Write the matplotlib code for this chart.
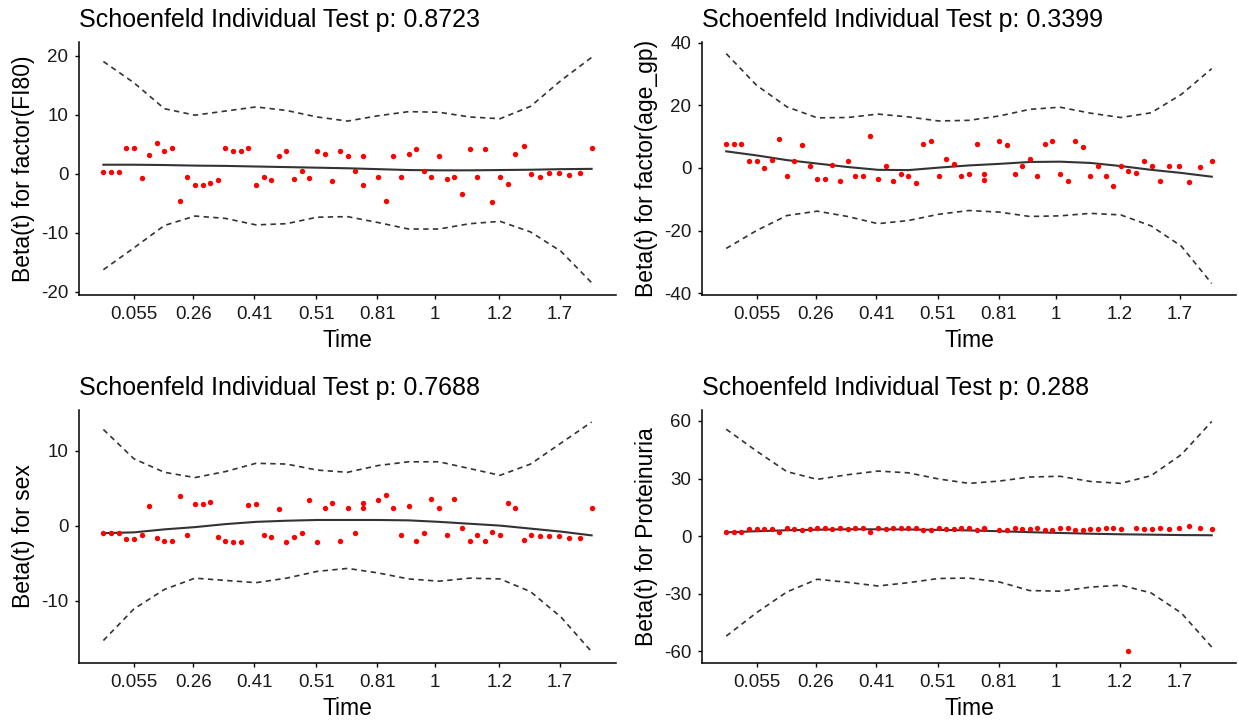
import matplotlib
matplotlib.use("Agg")
import matplotlib.pyplot as plt

plt.rcParams['font.family'] = ['Liberation Sans', 'DejaVu Sans']
plt.rcParams['axes.unicode_minus'] = False

# x positions (transformed time, rank scale) of the residual points
time_pos = list(range(0, 34)) + [34, 34] + list(range(36, 54)) + \
    [54.0, 55.1, 56.1, 57.2, 58.4, 59.7, 61.0, 62.5, 64.0]

tick_pos = [4.0, 11.8, 19.8, 27.9, 35.9, 43.5, 51.9, 59.8]
tick_labels = ["0.055", "0.26", "0.41", "0.51", "0.81", "1", "1.2", "1.7"]

# residuals
fi80_resid = [0.2, 0.2, 0.2, 4.3, 4.3, -0.7, 3.2, 5.2, 3.9, 4.3, -4.6, -0.5, -2.0, -2.0, -1.6, -1.1,
              4.3, 3.9, 3.9, 4.3, -2.0, -0.5, -1.1, 3.0, 3.9, -0.9, 0.4, -0.7, 3.9, 3.4, -1.3, 3.9,
              3.0, 0.4, 3.0, -2.0,
              -0.5, -4.6, 3.0, -0.5, 3.4, 4.1, 0.4, -0.5, 3.0, -0.9, -0.5, -3.5, 4.1, -0.5, 4.1,
              -4.8, -0.5, -1.7,
              3.3, 4.7, -0.1, -0.6, 0.1, 0.1, -0.3, 0.1, 4.3]
age_resid = [7.7, 7.7, 7.7, 2.2, 2.2, 0.1, 2.6, 9.3, -2.6, 2.2, 7.4, 0.5, -3.4, -3.4, 1.0, -4.2,
             2.2, -2.6, -2.6, 10.2, -3.4, 0.5, -4.2, -1.8, -2.6, -4.7, 7.7, 8.5, -2.6, 3.0, 1.4,
             -2.6, -1.8, 7.7, -1.8, -3.8,
             8.5, 7.4, -1.8, 0.5, 3.0, -2.6, 7.7, 8.5, -1.8, -4.2, 8.5, 6.6, -2.6, 0.5, -2.6,
             -5.8, 0.5, -1.1,
             -1.7, 2.3, 0.7, -4.1, 0.7, 0.7, -4.6, 0.3, 2.3]
sex_resid = [-1.0, -1.0, -1.0, -1.8, -1.8, -1.3, 2.6, -1.7, -2.0, -2.0, 3.9, -1.3, 2.9, 2.9, 3.2,
             -1.5, -2.0, -2.2, -2.2, 2.7, 2.9, -1.3, -1.5, 2.2, -2.2, -1.5, -1.0, 3.4, -2.2, 2.4,
             3.0, -2.0, 2.4, -1.0, 3.0, 2.4,
             3.4, 4.1, 2.4, -1.2, 2.6, -2.0, -1.0, 3.6, 2.4, -1.3, 3.6, -0.3, -2.0, -1.2, -2.0,
             -0.8, -1.2, 3.0,
             2.3, -1.9, -1.2, -1.4, -1.4, -1.4, -1.6, -1.6, 2.3]
prot_resid = [2.3, 2.3, 2.3, 3.7, 3.7, 3.7, 3.7, 2.3, 4.3, 3.7, 3.0, 3.7, 4.3, 4.3, 3.7, 4.3, 3.7,
              4.3, 4.3, 2.3, 4.3, 3.7, 4.3, 4.3, 4.3, 4.3, 3.0, 3.0, 4.3, 3.7, 3.7, 4.3, 4.3, 3.0,
              4.3, 3.7,
              3.0, 3.0, 4.3, 3.7, 3.7, 4.3, 3.0, 3.0, 4.3, 4.3, 3.0, 3.0, 3.7, 3.7, 4.3, 4.3, 3.7,
              -60.0,
              4.5, 3.5, 3.5, 4.2, 3.5, 4.2, 5.2, 4.2, 3.5]

# smooth fit and confidence band, read at these positions
curve_pos = [0, 4, 8, 12, 16, 20, 24, 28, 32, 36, 40, 44, 48, 52, 56, 60, 64]

fi80_fit = [1.5, 1.5, 1.45, 1.35, 1.3, 1.2, 1.1, 1.0, 0.9, 0.75, 0.6, 0.55, 0.55, 0.6, 0.65, 0.75, 0.8]
fi80_upper = [19.0, 15.4, 11.0, 9.9, 10.6, 11.3, 10.7, 9.6, 8.9, 9.8, 10.5, 10.4, 9.6, 9.3, 11.4, 15.8, 19.7]
fi80_lower = [-16.3, -12.6, -8.8, -7.2, -7.6, -8.7, -8.5, -7.4, -7.3, -8.3, -9.4, -9.4, -8.5, -8.1, -9.9, -13.2, -18.5]

age_fit = [5.3, 4.0, 2.5, 1.4, 0.3, -0.6, -0.7, 0.1, 0.8, 1.3, 1.9, 2.0, 1.6, 0.6, -0.6, -1.6, -2.8]
age_upper = [36.5, 26.4, 19.5, 16.0, 16.1, 17.2, 16.3, 15.0, 15.2, 16.6, 18.7, 19.4, 17.5, 16.1, 17.6, 23.5, 31.7]
age_lower = [-25.7, -20.0, -15.2, -13.8, -15.5, -17.8, -16.8, -14.8, -13.6, -14.1, -15.5, -15.3, -14.5, -15.0, -18.5, -25.0, -36.9]

sex_fit = [-1.0, -0.9, -0.5, -0.2, 0.2, 0.5, 0.65, 0.75, 0.75, 0.75, 0.7, 0.5, 0.25, 0.0, -0.4, -0.8, -1.3]
sex_upper = [12.8, 8.9, 7.1, 6.4, 7.2, 8.3, 8.2, 7.4, 7.1, 8.0, 8.5, 8.5, 7.6, 6.7, 8.2, 11.0, 13.8]
sex_lower = [-15.3, -11.1, -8.5, -7.0, -7.3, -7.6, -7.0, -6.1, -5.7, -6.3, -7.1, -7.4, -7.0, -7.1, -8.8, -12.2, -16.8]

prot_fit = [2.0, 2.6, 3.1, 3.4, 3.6, 3.6, 3.5, 3.3, 3.0, 2.6, 2.1, 1.7, 1.3, 1.0, 0.8, 0.6, 0.5]
prot_upper = [55.7, 44.3, 33.6, 29.6, 32.0, 33.9, 33.0, 29.8, 27.5, 28.7, 30.8, 31.2, 28.5, 27.5, 31.5, 42.5, 59.7]
prot_lower = [-52.0, -39.8, -29.0, -22.4, -24.0, -25.9, -24.2, -22.0, -21.8, -23.8, -28.3, -28.6, -26.5, -25.5, -29.5, -40.0, -57.7]

titles = ["Schoenfeld Individual Test p: 0.8723", "Schoenfeld Individual Test p: 0.3399",
          "Schoenfeld Individual Test p: 0.7688", "Schoenfeld Individual Test p: 0.288"]
ylabels = ["Beta(t) for factor(FI80)", "Beta(t) for factor(age_gp)",
           "Beta(t) for sex", "Beta(t) for Proteinuria"]
yticks_list = [[-20, -10, 0, 10, 20], [-40, -20, 0, 20, 40], [-10, 0, 10], [-60, -30, 0, 30, 60]]
ylims = [(-20.6, 22.3), (-40.6, 40.2), (-18.3, 15.4), (-66.0, 65.7)]

resids = [fi80_resid, age_resid, sex_resid, prot_resid]
fits = [fi80_fit, age_fit, sex_fit, prot_fit]
uppers = [fi80_upper, age_upper, sex_upper, prot_upper]
lowers = [fi80_lower, age_lower, sex_lower, prot_lower]

fig = plt.figure(figsize=(12.38, 7.25), dpi=100)
rects = [(0.0638, 0.593, 0.4338, 0.349), (0.567, 0.593, 0.4314, 0.349),
         (0.0638, 0.0855, 0.4338, 0.349), (0.567, 0.0855, 0.4314, 0.349)]

line_col = "#333333"
for i in range(4):
    ax = fig.add_axes(rects[i])
    ax.plot(curve_pos, uppers[i], ls=(0, (3.2, 2.6)), color=line_col, lw=1.2)
    ax.plot(curve_pos, lowers[i], ls=(0, (3.2, 2.6)), color=line_col, lw=1.2)
    ax.plot(curve_pos, fits[i], color=line_col, lw=1.5)
    ax.scatter(time_pos, resids[i], s=15, color="#FF0000", zorder=3, linewidths=0)
    ax.set_xlim(-3.2, 67.2)
    ax.set_ylim(*ylims[i])
    ax.set_xticks(tick_pos)
    ax.set_xticklabels(tick_labels)
    ax.set_yticks(yticks_list[i])
    ax.set_yticklabels([str(v) for v in yticks_list[i]])
    for s in ["top", "right"]:
        ax.spines[s].set_visible(False)
    for s in ["left", "bottom"]:
        ax.spines[s].set_linewidth(1.1)
        ax.spines[s].set_color("black")
    ax.tick_params(axis="both", labelsize=13.5, length=3.2, width=1.0, colors="black",
                   labelcolor="#1a1a1a")
    ax.tick_params(axis="x", pad=5)
    ax.tick_params(axis="y", pad=4.5)
    ax.set_xlabel("Time", fontsize=16.5, labelpad=4)
    ax.set_ylabel(ylabels[i], fontsize=16.5, labelpad=4)
    ax.set_title(titles[i], fontsize=18, loc="left", pad=11)

fig.savefig("out.png", dpi=100)
